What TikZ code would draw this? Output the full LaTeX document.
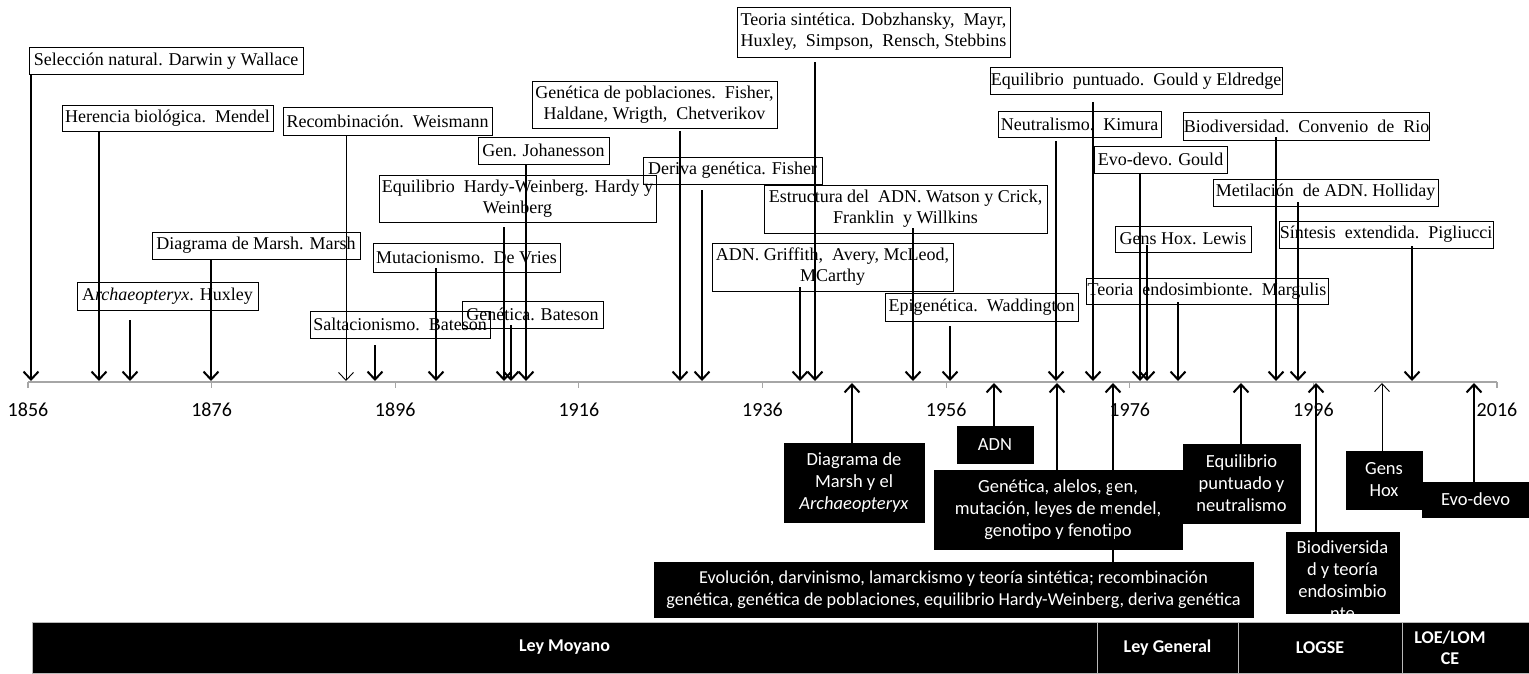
\documentclass[tikz,border=0pt]{standalone}
\usepackage{fontspec}
\setmainfont{Liberation Serif}
\newfontfamily\calfont{Carlito}
\usetikzlibrary{arrows.meta,calc}
\begin{document}
\begin{tikzpicture}[x=1pt,y=-1pt,
  tbox/.style={draw, line width=0.9pt, inner sep=0pt, align=center, font=\fontsize{18}{21}\selectfont},
  bbox/.style={fill=black, draw=black, text=white, inner sep=0pt, align=center, font=\calfont\fontsize{18.5}{22}\selectfont},
  seg/.style={fill=black, draw=gray!55, line width=1pt, text=white, inner sep=0pt, align=center, font=\calfont\bfseries\fontsize{18}{21}\selectfont},
  darr/.style={line width=2pt, -{Straight Barb[length=8pt,width=15pt]}},
  tarr/.style={line width=0.9pt, -{Straight Barb[length=8pt,width=15pt]}},
  axisline/.style={gray!70, line width=1.2pt},
  yearlab/.style={font=\calfont\fontsize{20}{22}\selectfont, inner sep=0pt}]
\useasboundingbox (0,0) rectangle (1529,673);

% ---- axis ----
\foreach \i in {0,...,8}{
  \pgfmathsetmacro\xx{28+\i*183.625}
  \pgfmathtruncatemacro\yy{1856+20*\i}
  \coordinate (tick\i) at (\xx,382);
  \draw[axisline] (tick\i) -- ++(0,6);
  \node[yearlab] (yl\i) at (\xx,410) {\yy};
}
\draw[axisline] (tick0) -- (tick8);

% ---- upper boxes ----
\node[tbox, minimum width=274, minimum height=27] (sel) at (166,61) {Selección natural. Darwin y Wallace};
\node[tbox, minimum width=211, minimum height=26] (her) at (167.5,118) {Herencia biológica.\ \ Mendel};
\node[tbox, minimum width=209, minimum height=28] (rec) at (387.5,121) {Recombinación.\ \ Weismann};
\node[tbox, minimum width=131, minimum height=27] (joh) at (543.5,150.5) {Gen. Johanesson};
\node[tbox, minimum width=277, minimum height=47] (hw) at (517.5,198.5) {Equilibrio\ \ Hardy-Weinberg. Hardy y\\Weinberg};
\node[tbox, minimum width=245, minimum height=47] (gpob) at (654.5,104.5) {Genética de poblaciones.\ \ Fisher,\\Haldane, Wrigth,\ \ Chetverikov};
\node[tbox, minimum width=179, minimum height=27] (der) at (732.5,170.5) {Deriva genética. Fisher};
\node[tbox, minimum width=273, minimum height=50] (teo) at (873.5,32) {Teoria sintética. Dobzhansky,\ \ Mayr,\\Huxley,\ \ Simpson,\ \ Rensch, Stebbins};
\node[tbox, minimum width=283, minimum height=48] (estr) at (905.5,209) {Estructura del\ \ ADN. Watson y Crick,\\Franklin\ \ y Willkins};
\node[tbox, minimum width=241, minimum height=48] (grif) at (832.5,267) {ADN. Griffith,\ \ Avery, McLeod,\\MCarthy};
\node[tbox, minimum width=193, minimum height=28] (epi) at (981.5,307) {Epigenética.\ \ Waddington};
\node[tbox, minimum width=292, minimum height=27] (epu) at (1136,81) {Equilibrio\ \ puntuado.\ \ Gould y Eldredge};
\node[tbox, minimum width=163, minimum height=26] (neu) at (1079.5,124) {Neutralismo.\ \ Kimura};
\node[tbox, minimum width=133, minimum height=27] (evg) at (1160.5,159.5) {Evo-devo. Gould};
\node[tbox, minimum width=136, minimum height=26] (hox) at (1183,239) {Gens Hox. Lewis};
\node[tbox, minimum width=242, minimum height=26] (endo) at (1207,291) {Teoria\ \ endosimbionte.\ \ Margulis};
\node[tbox, minimum width=243, minimum height=28] (biod) at (1306.5,126) {Biodiversidad.\ \ Convenio\ \ de\ \ Rio};
\node[tbox, minimum width=225, minimum height=27] (met) at (1325.5,192.5) {Metilación\ \ de ADN. Holliday};
\node[tbox, minimum width=214, minimum height=27] (sint) at (1386,234.5) {Síntesis\ \ extendida.\ \ Pigliucci};
\node[tbox, minimum width=208, minimum height=27] (dmm) at (256,245.5) {Diagrama de Marsh. Marsh};
\node[tbox, minimum width=181, minimum height=28] (arch) at (167.5,296) {A\textit{rchaeopteryx}. Huxley};
\node[tbox, minimum width=180, minimum height=27] (salt) at (400,324.5) {Saltacionismo.\ \ Bateson};
\node[tbox, minimum width=187, minimum height=29] (mut) at (466.5,257.5) {Mutacionismo.\ \ De Vries};
\node[tbox, minimum width=141, minimum height=27] (genb) at (532.5,314.5) {Genética. Bateson};

% ---- lower black boxes ----
\node[bbox, minimum width=140, minimum height=79] (dm) at (854,482.5) {Diagrama de\\Marsh y el\\\textit{Archaeopteryx}};
\node[bbox, minimum width=76, minimum height=37] (adn) at (995,444.5) {ADN};
\node[bbox, minimum width=248, minimum height=79] (gen) at (1058,510) {Genética, alelos, gen,\\mutación, leyes de mendel,\\genotipo y fenotipo};
\node[bbox, minimum width=117, minimum height=79] (epn) at (1241.5,483.5) {Equilibrio\\puntuado y\\neutralismo};
\node[bbox, minimum width=113, minimum height=81] (bio) at (1342.5,572.5) {};
\begin{scope}
  \clip (bio.south west) rectangle (bio.north east);
  \node[bbox, anchor=north, draw=none] (biot) at (1342.5,540) {Biodiversida\\d y teoría\\endosimbio\\nte};
\end{scope}
\node[bbox, minimum width=76, minimum height=58] (ghx) at (1384,480) {Gens\\Hox};
\node[bbox, minimum width=107, minimum height=35] (evd) at (1475.5,499.5) {Evo-devo};
\node[bbox, minimum width=599, minimum height=55, font=\calfont\fontsize{18.2}{22}\selectfont] (evo) at (953.5,589.5) {Evolución, darvinismo, lamarckismo y teoría sintética; recombinación\\genética, genética de poblaciones, equilibrio Hardy-Weinberg, deriva genética};

% ---- bottom bar ----
\node[seg, minimum width=1065, minimum height=51] (moy) at (564.5,647.5) {Ley Moyano};
\node[seg, minimum width=141, minimum height=51] (lgen) at (1167.5,647.5) {Ley General};
\node[seg, minimum width=164, minimum height=51] (logse) at (1320,647.5) {LOGSE};
\node[seg, minimum width=127, minimum height=51] (loe) at (1465.5,647.5) {};
\node[seg, draw=none, fill=none] (loet) at (1450,648) {LOE/LOM\\CE};

% ---- down arrows ----
\foreach \b/\x/\g in {sel/31/0, her/99/0, arch/130/10, dmm/211/0, salt/375/7, mut/436/-4,
  hw/504/5, genb/511/-3, joh/526/0, gpob/680/3, der/702/6, teo/815/5, grif/800/-4,
  estr/913/-5, epi/950/5, neu/1056/4, epu/1093/7, evg/1140/0, hox/1147/-7, endo/1178/-2,
  biod/1276/-3, met/1298/-4, sint/1412/-2}{
  \coordinate (t-\b) at (\x,381);
  \draw[darr] ($(\b.south -| t-\b)+(0,\g)$) -- (t-\b);
}
\coordinate (t-rec) at (346,381);
\draw[tarr] (rec.south -| t-rec) -- (t-rec);

% ---- up arrows ----
\foreach \b/\x in {dm/852, adn/994, gen/1057, epn/1241, bio/1316, evd/1474, evo/1113}{
  \coordinate (u-\b) at (\x,383);
  \draw[darr] (\b.north -| u-\b) -- (u-\b);
}
\coordinate (u-ghx) at (1382,383);
\draw[tarr] (ghx.north -| u-ghx) -- (u-ghx);
\end{tikzpicture}
\end{document}
